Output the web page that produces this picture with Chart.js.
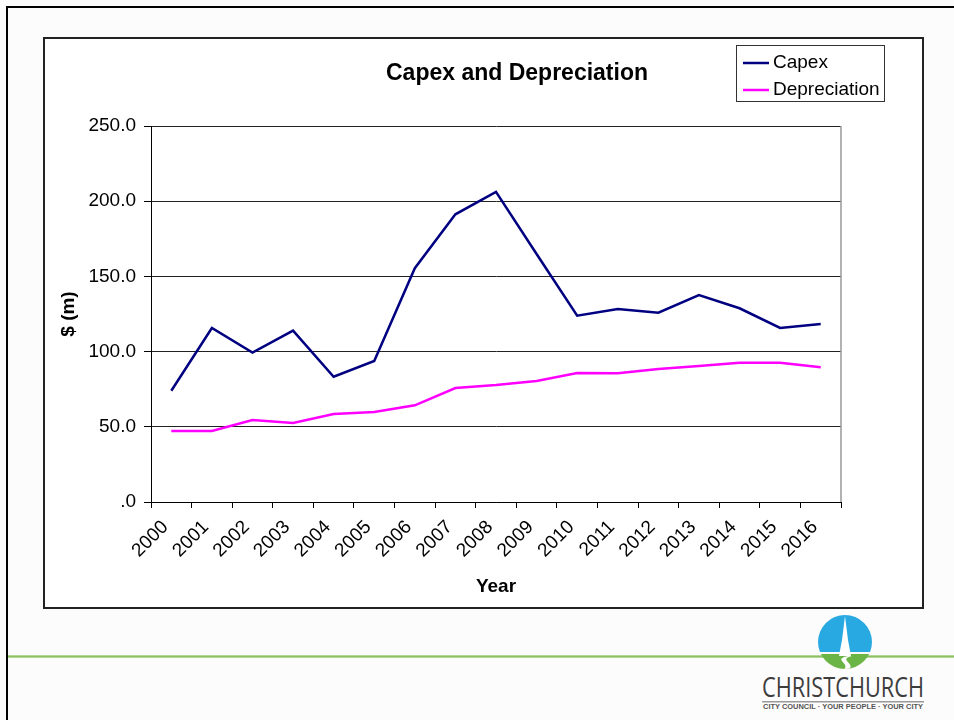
<!DOCTYPE html>
<html>
<head>
<meta charset="utf-8">
<script src="https://cdn.jsdelivr.net/npm/chart.js@4"></script>
<style>
html, body { margin: 0; padding: 0; }
body { width: 954px; height: 720px; overflow: hidden; position: relative; background: #fdfcfc; font-family: Arial, "Liberation Sans", sans-serif; }
#frame { position: absolute; left: 6px; top: 6px; width: 1000px; height: 800px; border-top: 2px solid #000; border-left: 2px solid #000; }
#box { position: absolute; left: 43px; top: 37px; width: 877px; height: 568px; border: 2px solid #222; background: #fff; }
#rule { position: absolute; left: 8px; top: 655px; width: 946px; height: 3px; background: linear-gradient(#c8e2b4, #8dc063, #c8e2b4); }
#logo { position: absolute; left: 760px; top: 610px; }
#myChart { position: absolute; left: 0; top: 0; }
</style>
</head>
<body>
<div id="frame"></div>
<div id="box"></div>
<div id="rule"></div>
<svg id="logo" width="170" height="110" viewBox="0 0 170 110">
  <defs>
    <clipPath id="disc"><circle cx="85" cy="32" r="27"/></clipPath>
  </defs>
  <g clip-path="url(#disc)">
    <rect x="50" y="0" width="70" height="42" fill="#29a9e1"/>
    <rect x="50" y="44" width="70" height="30" fill="#6ab545"/>
    <path d="M85 6 L88 30 L91 46 L79 46 L82 30 Z" fill="#fff"/>
    <path d="M88 46 C70 50 96 54 80 62 L86 62 C100 54 76 50 92 46 Z" fill="#fff"/>
  </g>
  <text x="2" y="87" font-family="'Open Sans', Arial, sans-serif" font-size="27" fill="#3d3d3d" textLength="162" lengthAdjust="spacingAndGlyphs">CHRISTCHURCH</text>
  <rect x="2" y="91" width="162" height="1.5" fill="#9a9a9a"/>
  <text x="3" y="99" font-family="Arial, sans-serif" font-size="6.5" font-weight="bold" fill="#555" textLength="160" lengthAdjust="spacingAndGlyphs">CITY COUNCIL · YOUR PEOPLE · YOUR CITY</text>
</svg>
<canvas id="myChart" width="954" height="720"></canvas>
<script>
var chartTitle = "Capex and Depreciation";
var years = ["2000", "2001", "2002", "2003", "2004", "2005", "2006", "2007", "2008",
    "2009", "2010", "2011", "2012", "2013", "2014", "2015", "2016"];
var capex = [74.0, 115.7, 99.3, 113.9, 83.3, 93.8, 155.5, 191.3, 206.2,
    164.9, 123.9, 128.3, 125.9, 137.6, 128.8, 115.7, 118.4];
var depreciation = [47.2, 47.2, 54.5, 52.5, 58.5, 59.8, 64.3, 75.8, 77.8,
    80.5, 85.8, 85.6, 88.4, 90.4, 92.6, 92.6, 89.6];
var yTicks = [0, 50, 100, 150, 200, 250];
var yTickLabels = [".0", "50.0", "100.0", "150.0", "200.0", "250.0"];

var fontFamily = "Arial, 'Liberation Sans', sans-serif";
Chart.defaults.font.family = fontFamily;
Chart.defaults.font.size = 19;
Chart.defaults.color = "#000";

// title, legend box and the grey right edge of the plot area
var overlay = {
    id: "overlay",
    afterDraw: function (chart) {
        var c = chart.ctx;
        var a = chart.chartArea;
        c.save();
        c.strokeStyle = "#999";
        c.lineWidth = 1.5;
        c.beginPath();
        c.moveTo(a.right, a.top);
        c.lineTo(a.right, a.bottom);
        c.stroke();

        c.fillStyle = "#000";
        c.font = "bold 23px " + fontFamily;
        c.textAlign = "center";
        c.textBaseline = "middle";
        c.fillText(chartTitle, 517, 74);

        c.fillStyle = "#fff";
        c.fillRect(736.5, 45.5, 148, 56);
        c.strokeStyle = "#333";
        c.lineWidth = 1;
        c.strokeRect(736.5, 45.5, 148, 56);
        c.font = "19px " + fontFamily;
        c.textAlign = "left";
        chart.data.datasets.forEach(function (ds, i) {
            var y = 63 + i * 27;
            c.strokeStyle = ds.borderColor;
            c.lineWidth = 2.5;
            c.beginPath();
            c.moveTo(743, y);
            c.lineTo(769, y);
            c.stroke();
            c.fillStyle = "#000";
            c.fillText(ds.label, 773, y);
        });
        c.restore();
    }
};

var ctx = document.getElementById("myChart").getContext("2d");
var chart = new Chart(ctx, {
    type: "line",
    data: {
        labels: years,
        datasets: [
            { label: "Capex", data: capex, borderColor: "#000080", borderWidth: 2.5, pointRadius: 0, tension: 0, fill: false },
            { label: "Depreciation", data: depreciation, borderColor: "#ff00ff", borderWidth: 2.5, pointRadius: 0, tension: 0, fill: false }
        ]
    },
    options: {
        responsive: false,
        animation: false,
        layout: { padding: { top: 126, right: 113, left: 0, bottom: 0 } },
        plugins: { legend: { display: false }, title: { display: false }, tooltip: { enabled: false } },
        scales: {
            x: {
                offset: true,
                grid: { offset: true, drawOnChartArea: false, drawTicks: true, tickLength: 6, color: "#000" },
                border: { color: "#000", width: 1 },
                ticks: { autoSkip: false, minRotation: 45, maxRotation: 45, padding: 8, labelOffset: -6, color: "#000" },
                title: { display: true, text: "Year", font: { size: 19, weight: "bold" }, color: "#000", padding: { top: 0, bottom: 122 } },
                afterFit: function (s) { s.height = 218; }
            },
            y: {
                min: 0,
                max: 250,
                ticks: {
                    stepSize: 50,
                    padding: 8,
                    color: "#000",
                    callback: function (value) {
                        var i = yTicks.indexOf(value);
                        return i >= 0 ? yTickLabels[i] : "";
                    }
                },
                grid: { color: "#222", tickLength: 7, tickColor: "#000" },
                border: { color: "#000", width: 1 },
                title: { display: true, text: "$ (m)", font: { size: 19, weight: "bold" }, color: "#000", padding: { top: 57, bottom: 0 } },
                afterFit: function (s) { s.width = 151; }
            }
        }
    },
    plugins: [overlay]
});
</script>
</body>
</html>
